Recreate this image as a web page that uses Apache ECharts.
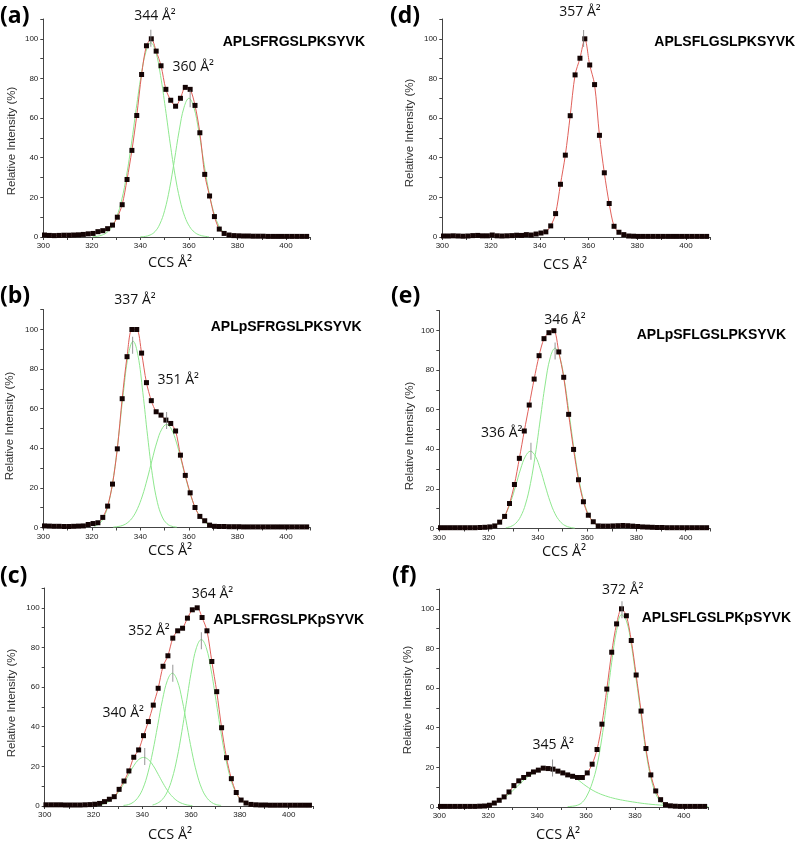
<!DOCTYPE html>
<html><head><meta charset="utf-8">
<script src="https://cdn.jsdelivr.net/npm/echarts@6/dist/echarts.min.js"></script>
<style>html,body{margin:0;padding:0;background:#fff}#c{width:798px;height:845px}</style>
</head><body><div id="c"></div>
<script>
// ---- data ----
const ccs = [300.5,302.5,304.5,306.5,308.5,310.5,312.5,314.5,316.5,318.5,320.5,322.5,324.5,326.5,328.5,330.5,332.5,334.5,336.5,338.5,340.5,342.5,344.5,346.5,348.5,350.5,352.5,354.5,356.5,358.5,360.5,362.5,364.5,366.5,368.5,370.5,372.5,374.5,376.5,378.5,380.5,382.5,384.5,386.5,388.5,390.5,392.5,394.5,396.5,398.5,400.5,402.5,404.5,406.5,408.5];

const intensityA = [1.0,0.8,0.7,0.8,0.9,0.9,1.0,1.1,1.3,1.6,1.8,2.7,3.2,4.2,6.0,10.0,16.3,29.0,43.7,61.3,82.0,96.5,100,93.8,86.4,74.5,69.0,66.0,70.0,75.5,74.5,66.4,52.6,31.6,20.7,10.3,4.0,1.8,1.0,0.7,0.6,0.5,0.5,0.4,0.4,0.4,0.3,0.3,0.3,0.3,0.3,0.3,0.3,0.3,0.3];
const intensityB = [0.8,0.7,0.6,0.6,0.5,0.5,0.6,0.7,0.8,1.5,2.0,2.4,5.1,10.8,21.9,39.7,65.0,86.2,99.9,99.9,88.0,73.1,64.0,58.4,56.7,54.2,52.5,48.7,36.5,26.3,17.5,10.1,5.6,3.4,1.2,0.6,0.5,0.5,0.4,0.4,0.4,0.3,0.3,0.3,0.3,0.3,0.3,0.3,0.3,0.3,0.3,0.3,0.3,0.3,0.3];
const intensityC = [0.6,0.6,0.6,0.6,0.5,0.5,0.5,0.5,0.6,0.7,0.9,1.3,2.2,3.4,4.7,8.4,12.6,17.7,24.6,28.3,35.5,42.6,50.9,59.4,70.5,75.8,84.7,88.4,89.7,94.8,99.0,100,95.1,88.4,72.9,57.7,39.5,24.4,13.8,6.8,3.0,1.5,0.8,0.6,0.5,0.5,0.4,0.4,0.4,0.4,0.4,0.4,0.4,0.4,0.4];
const intensityD = [0.5,0.5,0.6,0.5,0.4,0.5,0.7,0.8,0.6,0.6,1.0,0.6,0.5,0.6,0.7,0.9,0.8,1.2,1.0,1.5,2.0,2.6,5.6,11.8,26.6,41.3,61.2,81.8,90.2,100,86.8,76.9,51.3,32.4,16.9,5.4,2.4,1.2,0.5,0.4,0.3,0.3,0.3,0.3,0.3,0.3,0.3,0.3,0.3,0.3,0.3,0.3,0.3,0.3,0.3];
const intensityE = [0.4,0.4,0.4,0.4,0.4,0.4,0.4,0.4,0.5,0.6,0.8,1.3,3.2,6.1,12.6,22.2,35.4,49.2,62.3,75.4,87.2,95.8,98.8,99.8,89.1,76.3,57.6,39.9,24.6,13.5,6.7,3.4,1.3,1.2,1.2,1.3,1.4,1.5,1.4,1.2,1.0,0.8,0.7,0.6,0.5,0.5,0.4,0.4,0.4,0.4,0.4,0.4,0.4,0.4,0.4];
const intensityF = [0.3,0.3,0.3,0.3,0.3,0.3,0.3,0.3,0.4,0.5,0.9,2.0,3.4,5.1,7.6,10.8,13.2,14.9,16.5,17.7,18.6,19.6,19.4,19.1,18.1,17.2,16.2,15.5,14.9,14.9,17.2,21.6,29.0,41.8,59.5,78.1,92.4,100,96.5,84.0,66.6,48.4,29.5,16.2,8.1,3.7,1.2,0.6,0.4,0.3,0.3,0.3,0.3,0.3,0.3];

// fitted component curves: [CCS, intensity]
const compA1 = [[320.3,0.1],[322.3,0.4],[324.3,1.0],[326.3,2.4],[328.3,5.2],[330.3,10.3],[332.3,18.7],[334.3,31.1],[336.3,47.0],[338.3,64.9],[340.3,81.5],[342.3,93.6],[344.3,98],[346.3,93.6],[348.3,81.5],[350.3,64.9],[352.3,47.0],[354.3,31.1],[356.3,18.7],[358.3,10.3],[360.3,5.2],[362.3,2.4],[364.3,1.0],[366.3,0.4],[368.3,0.1]];
const compA2 = [[340,0.1],[342,0.3],[344,1.0],[346,2.7],[348,6.5],[350,13.4],[352,24.3],[354,38.6],[356,53.8],[358,65.5],[360,70],[362,65.5],[364,53.8],[366,38.6],[368,24.3],[370,13.4],[372,6.5],[374,2.7],[376,1.0],[378,0.3],[380,0.1]];
const compB1 = [[321,0.6],[323,1.9],[325,5.3],[327,12.7],[329,26.1],[331,45.8],[333,68.2],[335,86.8],[337,94],[339,86.8],[341,68.2],[343,45.8],[345,26.1],[347,12.7],[349,5.3],[351,1.9],[353,0.6],[355,0.2]];
const compB2 = [[328.8,0.2],[330.8,0.5],[332.8,1.1],[334.8,2.5],[336.8,5.1],[338.8,9.5],[340.8,15.9],[342.8,24.4],[344.8,34.0],[346.8,43.1],[348.8,49.6],[350.8,52],[352.8,49.6],[354.8,43.1],[356.8,34.0],[358.8,24.4],[360.8,15.9],[362.8,9.5],[364.8,5.1],[366.8,2.5],[368.8,1.1],[370.8,0.5],[372.8,0.2]];
const compC1 = [[320.5,0.2],[322.5,0.5],[324.5,1.2],[326.5,2.4],[328.5,4.5],[330.5,7.5],[332.5,11.5],[334.5,16.0],[336.5,20.3],[338.5,23.4],[340.5,24.5],[342.5,23.4],[344.5,20.3],[346.5,16.0],[348.5,11.5],[350.5,7.5],[352.5,4.5],[354.5,2.4],[356.5,1.2],[358.5,0.5],[360.5,0.2]];
const compC2 = [[332.3,0.3],[334.3,0.7],[336.3,1.9],[338.3,4.4],[340.3,9.0],[342.3,16.7],[344.3,27.5],[346.3,40.6],[348.3,53.7],[350.3,63.4],[352.3,67],[354.3,63.4],[356.3,53.7],[358.3,40.6],[360.3,27.5],[362.3,16.7],[364.3,9.0],[366.3,4.4],[368.3,1.9],[370.3,0.7],[372.3,0.3]];
const compC3 = [[344.2,0.5],[346.2,1.4],[348.2,3.3],[350.2,7.1],[352.2,13.7],[354.2,23.9],[356.2,37.5],[358.2,53.3],[360.2,68.6],[362.2,79.9],[364.2,84],[366.2,79.9],[368.2,68.6],[370.2,53.3],[372.2,37.5],[374.2,23.9],[376.2,13.7],[378.2,7.1],[380.2,3.3],[382.2,1.4],[384.2,0.5]];
const compE1 = [[319,0.2],[321,0.6],[323,1.5],[325,3.6],[327,7.4],[329,13.5],[331,21.5],[333,30.0],[335,36.5],[337,39],[339,36.5],[341,30.0],[343,21.5],[345,13.5],[347,7.4],[349,3.6],[351,1.5],[353,0.6],[355,0.2]];
const compE2 = [[327,0.4],[329,1.0],[331,2.6],[333,6.0],[335,12.3],[337,22.7],[339,37.4],[341,55.2],[343,72.9],[345,86.1],[347,91],[349,86.1],[351,72.9],[353,55.2],[355,37.4],[357,22.7],[359,12.3],[361,6.0],[363,2.6],[365,1.0],[367,0.4]];
const compF1 = [[312,0.2],[316,0.4],[320,1.0],[324,2.8],[328,6.0],[332,10.6],[336,15.0],[340,18.0],[344,19.3],[346,19.3],[348,18.7],[352,16.8],[356,14.3],[360,10.6],[364,7.6],[368,5.6],[372,4.2],[376,3.2],[380,2.4],[384,1.7],[390,1.0],[396,0.6],[404,0.3],[410,0.2]];
const compF2 = [[352.5,0.2],[354.5,0.4],[356.5,0.9],[358.5,2.4],[360.5,6.0],[362.5,12.0],[364.5,21],[366.5,35],[368.5,53.5],[370.5,73],[372.5,89],[374.5,97],[376.5,94],[378.5,82],[380.5,64.5],[382.5,46.5],[384.5,28],[386.5,14.8],[388.5,6.8],[390.5,2.6],[392.5,0.8],[394.5,0.2]];

// peak-centre markers [CCS, intensity]
const marksA = [[344.3,100.3],[360.5,69.7]];
const marksB = [[336.8,92],[350.8,54]];
const marksC = [[341,25],[352.5,67],[364.2,83.4]];
const marksD = [[358,100.2]];
const marksE = [[337.2,39],[347,89.6]];
const marksF = [[346.3,19.7],[374.7,99.5]];

const peptides = ['APLSFRGSLPKSYVK','APLpSFRGSLPKSYVK','APLSFRGSLPKpSYVK','APLSFLGSLPKSYVK','APLpSFLGSLPKSYVK','APLSFLGSLPKpSYVK'];
const panelLetters = ['(a)','(b)','(c)','(d)','(e)','(f)'];
const peakLabelsA = ['344 Å²','360 Å²'];
const peakLabelsB = ['337 Å²','351 Å²'];
const peakLabelsC = ['364 Å²','352 Å²','340 Å²'];
const peakLabelsD = ['357 Å²'];
const peakLabelsE = ['346 Å²','336 Å²'];
const peakLabelsF = ['372 Å²','345 Å²'];
const xTickLabels = [300,320,340,360,380,400];
const yTickLabels = [0,20,40,60,80,100];

// ---- layout ----
const panels = [
  {data:intensityA, comps:[compA1,compA2], marks:marksA, grid:{left:43.3,top:19,width:267,height:218},
   letter:[0,16], pep:[222.7,41.7], labels:peakLabelsA, labelPos:[[155,16],[193.3,66.7]], xname:[170,263], yname:[11.7,141]},
  {data:intensityB, comps:[compB1,compB2], marks:marksB, grid:{left:43.3,top:309.5,width:267,height:218},
   letter:[0,296], pep:[210.7,326.7], labels:peakLabelsB, labelPos:[[135,300],[178.3,380]], xname:[170,551], yname:[10,426]},
  {data:intensityC, comps:[compC1,compC2,compC3], marks:marksC, grid:{left:44.7,top:588,width:268.4,height:218},
   letter:[0,576], pep:[213.3,620], labels:peakLabelsC, labelPos:[[212.5,594],[149,631],[123.3,713.3]], xname:[170,835], yname:[11.7,703]},
  {data:intensityD, comps:[], marks:marksD, grid:{left:442.3,top:19,width:268,height:218},
   letter:[390,16], pep:[654.3,41.7], labels:peakLabelsD, labelPos:[[580,11.7]], xname:[565,265], yname:[410,133]},
  {data:intensityE, comps:[compE1,compE2], marks:marksE, grid:{left:439.3,top:310.5,width:271,height:218},
   letter:[391,296], pep:[636.7,335], labels:peakLabelsE, labelPos:[[565,320],[501.7,433.3]], xname:[564,552], yname:[410,436]},
  {data:intensityF, comps:[compF1,compF2], marks:marksF, grid:{left:439.3,top:589,width:269,height:218},
   letter:[392,576], pep:[641.7,618.3], labels:peakLabelsF, labelPos:[[622.7,590],[553.3,745]], xname:[558,835], yname:[408.3,700]}
];

const axisColor = '#444';
const grids = [], xAxes = [], yAxes = [], series = [], graphics = [];
panels.forEach((p, i) => {
  grids.push(Object.assign({containLabel:false}, p.grid));
  xAxes.push({type:'value', gridIndex:i, min:300, max:410, interval:10,
    axisLine:{show:true, onZero:false, lineStyle:{color:axisColor, width:1}},
    axisTick:{show:true, length:3, lineStyle:{color:axisColor}},
    axisLabel:{fontSize:8, color:'#222', margin:5, fontFamily:'Liberation Sans',
      formatter:v => xTickLabels.indexOf(v) >= 0 ? String(v) : ''},
    splitLine:{show:false}});
  yAxes.push({type:'value', gridIndex:i, min:0, max:110, interval:10,
    axisLine:{show:true, lineStyle:{color:axisColor, width:1}},
    axisTick:{show:true, length:3, lineStyle:{color:axisColor}},
    axisLabel:{fontSize:8, color:'#222', margin:5, fontFamily:'Liberation Sans',
      formatter:v => yTickLabels.indexOf(v) >= 0 ? String(v) : ''},
    splitLine:{show:false}});
  p.comps.forEach(c => {
    series.push({type:'line', xAxisIndex:i, yAxisIndex:i, data:c, smooth:0.4, showSymbol:false,
      lineStyle:{color:'#8fe88f', width:1}, silent:true, z:2, animation:false});
  });
  series.push({type:'line', xAxisIndex:i, yAxisIndex:i,
    data:ccs.map((x, k) => [x, p.data[k]]), smooth:0.3,
    symbol:'rect', symbolSize:5, showAllSymbol:true,
    itemStyle:{color:'#140404'}, lineStyle:{color:'#e0605a', width:1}, z:3, animation:false});
  series.push({type:'scatter', xAxisIndex:i, yAxisIndex:i, data:p.marks,
    symbol:'rect', symbolSize:[1,17], itemStyle:{color:'#7a7a7a'}, z:4, animation:false, silent:true});

  graphics.push({type:'text', x:p.letter[0], y:p.letter[1],
    style:{text:panelLetters[i], fontSize:23, fontWeight:'bold', fontFamily:'Open Sans', fill:'#000',
      align:'left', verticalAlign:'middle', textAlign:'left', textVerticalAlign:'middle'}});
  graphics.push({type:'text', x:p.pep[0], y:p.pep[1],
    style:{text:peptides[i], fontSize:14, fontWeight:'bold', fontFamily:'Liberation Sans', fill:'#000',
      align:'left', verticalAlign:'middle', textAlign:'left', textVerticalAlign:'middle'}});
  p.labels.forEach((t, k) => {
    graphics.push({type:'text', x:p.labelPos[k][0], y:p.labelPos[k][1],
      style:{text:t, fontSize:14, fontFamily:'Open Sans', fill:'#111',
        align:'center', verticalAlign:'middle', textAlign:'center', textVerticalAlign:'middle'}});
  });
  graphics.push({type:'text', x:p.xname[0], y:p.xname[1],
    style:{text:'CCS Å²', fontSize:14.5, fontFamily:'Open Sans', fill:'#111',
      align:'center', verticalAlign:'middle', textAlign:'center', textVerticalAlign:'middle'}});
  graphics.push({type:'text', x:p.yname[0], y:p.yname[1], rotation:Math.PI/2,
    style:{text:'Relative Intensity (%)', fontSize:11.5, fontFamily:'Liberation Sans', fill:'#333',
      align:'center', verticalAlign:'middle', textAlign:'center', textVerticalAlign:'middle'}});
});

const chart = echarts.init(document.getElementById('c'), null, {renderer:'canvas'});
chart.setOption({
  animation:false,
  backgroundColor:'#fff',
  grid:grids, xAxis:xAxes, yAxis:yAxes, series:series, graphic:graphics
});
</script></body></html>
